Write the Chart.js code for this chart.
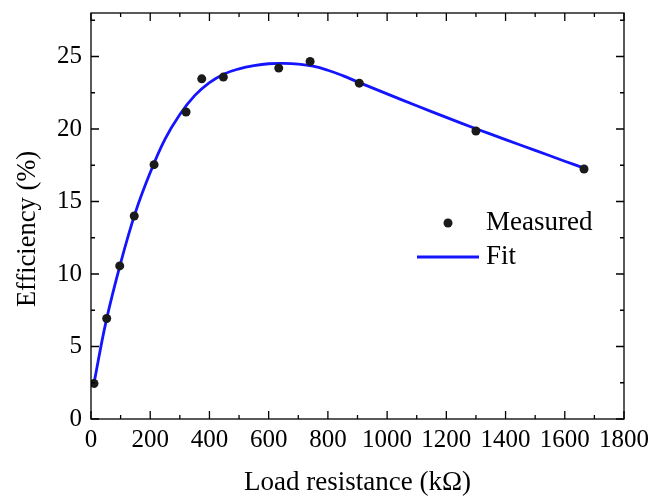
<!DOCTYPE html>
<html>
<head>
<meta charset="utf-8">
<script src="https://cdn.jsdelivr.net/npm/chart.js@4"></script>
<style>
  html, body { margin: 0; padding: 0; background: #fff; }
  #wrap { width: 654px; height: 503px; }
</style>
</head>
<body>
<div id="wrap"><canvas id="chart" width="654" height="503"></canvas></div>
<script>
// measured points
const resistance = [10, 53, 97, 146, 213, 321, 374, 447, 634, 740, 906, 1300, 1665];
const efficiency = [2.45, 6.93, 10.56, 14.0, 17.54, 21.17, 23.46, 23.58, 24.2, 24.66, 23.16, 19.86, 17.24];

// fit curve
const fitResistance = [10, 50, 100, 150, 200, 250, 300, 350, 400, 450, 500, 550, 600, 650, 700, 750, 800, 850, 900, 1000, 1100, 1200, 1300, 1400, 1500, 1600, 1665];
const fitEfficiency = [2.45, 6.65, 10.75, 14.25, 17.0, 19.3, 21.0, 22.3, 23.2, 23.8, 24.15, 24.37, 24.5, 24.52, 24.47, 24.33, 24.05, 23.68, 23.25, 22.42, 21.6, 20.8, 20.02, 19.27, 18.53, 17.78, 17.3];

const xTicks = [0, 200, 400, 600, 800, 1000, 1200, 1400, 1600, 1800];
const yTicks = [0, 5, 10, 15, 20, 25];
const seriesNames = ['Measured', 'Fit'];
const yTitle = 'Efficiency (%)';

const FONT = "'Liberation Serif', 'Times New Roman', serif";
const BLUE = '#1414ff';

// box with inward ticks, y title and legend
const framePlugin = {
  id: 'frame',
  afterDraw(chart) {
    const ctx = chart.ctx;
    const a = chart.chartArea;
    const xs = chart.scales.x, ys = chart.scales.y;
    ctx.save();
    ctx.strokeStyle = '#000';
    ctx.lineWidth = 1.3;
    ctx.strokeRect(a.left, a.top, a.right - a.left, a.bottom - a.top);
    ctx.beginPath();
    for (let v = 0; v <= 1800; v += 100) {
      const px = xs.getPixelForValue(v);
      const len = v % 200 === 0 ? 8 : 4;
      ctx.moveTo(px, a.bottom); ctx.lineTo(px, a.bottom - len);
      ctx.moveTo(px, a.top); ctx.lineTo(px, a.top + len);
    }
    for (let v = 0; v <= 27.5; v += 2.5) {
      const py = ys.getPixelForValue(v);
      const len = v % 5 === 0 ? 8 : 4;
      ctx.moveTo(a.left, py); ctx.lineTo(a.left + len, py);
      ctx.moveTo(a.right, py); ctx.lineTo(a.right - len, py);
    }
    ctx.stroke();

    // y title
    ctx.fillStyle = '#000';
    ctx.font = '26.5px ' + FONT;
    ctx.textAlign = 'center';
    ctx.textBaseline = 'middle';
    ctx.translate(28, 229);
    ctx.rotate(-Math.PI / 2);
    ctx.fillText(yTitle, 0, 0);
    ctx.setTransform(1, 0, 0, 1, 0, 0);

    // legend
    ctx.fillStyle = '#1a1a1a';
    ctx.beginPath();
    ctx.arc(448, 223, 4.5, 0, Math.PI * 2);
    ctx.fill();
    ctx.strokeStyle = BLUE;
    ctx.lineWidth = 2.8;
    ctx.beginPath();
    ctx.moveTo(417, 257); ctx.lineTo(479, 257);
    ctx.stroke();
    ctx.fillStyle = '#000';
    ctx.font = '27px ' + FONT;
    ctx.textAlign = 'left';
    ctx.fillText(seriesNames[0], 486, 223);
    ctx.fillText(seriesNames[1], 486, 257);
    ctx.restore();
  }
};

new Chart(document.getElementById('chart'), {
  type: 'scatter',
  data: {
    datasets: [
      {
        label: seriesNames[0],
        data: resistance.map((r, i) => ({ x: r, y: efficiency[i] })),
        pointRadius: 4.5,
        pointBackgroundColor: '#1a1a1a',
        pointBorderColor: '#1a1a1a',
        pointBorderWidth: 0,
        showLine: false,
        order: 0
      },
      {
        label: seriesNames[1],
        data: fitResistance.map((r, i) => ({ x: r, y: fitEfficiency[i] })),
        showLine: true,
        borderColor: BLUE,
        borderWidth: 2.8,
        pointRadius: 0,
        tension: 0.4,
        order: 1
      }
    ]
  },
  options: {
    responsive: false,
    animation: false,
    layout: { padding: { top: 13, right: 30, left: 0, bottom: 0 } },
    plugins: {
      legend: { display: false },
      tooltip: { enabled: false }
    },
    scales: {
      x: {
        type: 'linear',
        min: 0,
        max: 1800,
        afterBuildTicks: (s) => { s.ticks = xTicks.map(v => ({ value: v })); },
        afterFit: (s) => { s.height = 84; s.paddingLeft = 0; s.paddingRight = 0; },
        grid: { display: false, drawTicks: false },
        border: { display: false },
        ticks: { color: '#000', font: { family: FONT, size: 25 }, padding: 6, maxRotation: 0, autoSkip: false, callback: (v) => String(v) },
        title: { display: true, text: 'Load resistance (kΩ)', color: '#000', font: { family: FONT, size: 27 }, padding: { bottom: 4 } }
      },
      y: {
        type: 'linear',
        min: 0,
        max: 28,
        afterBuildTicks: (s) => { s.ticks = yTicks.map(v => ({ value: v })); },
        afterFit: (s) => { s.width = 91; s.paddingTop = 0; s.paddingBottom = 0; },
        grid: { display: false, drawTicks: false },
        border: { display: false },
        ticks: { color: '#000', font: { family: FONT, size: 25 }, padding: 9, callback: (v) => String(v) }
      }
    }
  },
  plugins: [framePlugin]
});
</script>
</body>
</html>
